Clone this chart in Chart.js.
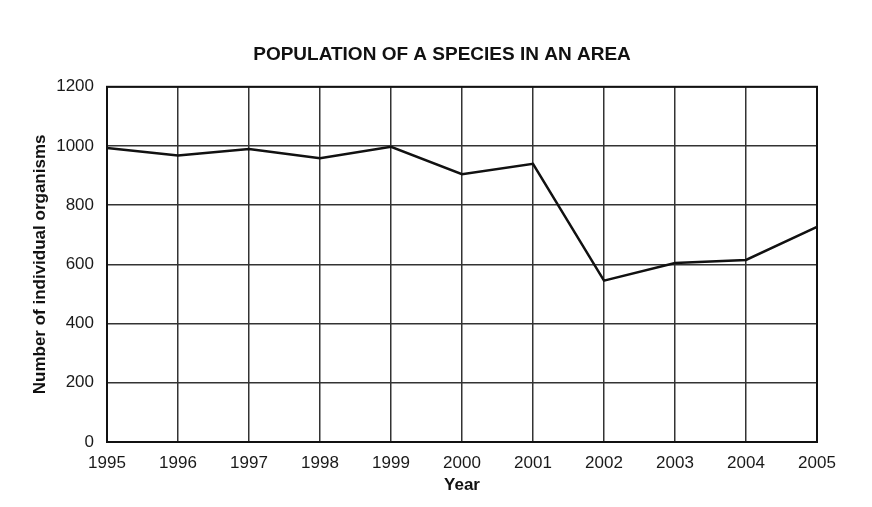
<!DOCTYPE html>
<html>
<head>
<meta charset="utf-8">
<script src="https://cdn.jsdelivr.net/npm/chart.js@4"></script>
<style>
  html, body { margin: 0; padding: 0; background: #fff; }
  #wrap { width: 872px; height: 507px; }
</style>
</head>
<body>
<div id="wrap"><canvas id="popChart"></canvas></div>
<script>
// values
const years = [1995, 1996, 1997, 1998, 1999, 2000, 2001, 2002, 2003, 2004, 2005];
const population = [993, 968, 990, 959, 997, 905, 940, 545, 605, 615, 727];
const yTicks = [0, 200, 400, 600, 800, 1000, 1200];

const font = "'Liberation Sans', Arial, Helvetica, sans-serif";
Chart.defaults.font.family = font;
Chart.defaults.color = '#1a1a1a';

const points = years.map((y, i) => ({ x: y, y: population[i] }));

new Chart(document.getElementById('popChart').getContext('2d'), {
    type: 'line',
    data: {
        datasets: [{
            data: points,
            borderColor: '#111',
            borderWidth: 2.5,
            pointRadius: 0,
            tension: 0,
            fill: false
        }]
    },
    options: {
        responsive: true,
        maintainAspectRatio: false,
        animation: false,
        layout: { padding: { left: 12, right: 0, top: 0, bottom: 0 } },
        plugins: {
            legend: { display: false },
            tooltip: { enabled: false },
            title: {
                display: true,
                text: 'POPULATION OF A SPECIES IN AN AREA',
                font: { size: 19, weight: 'bold' },
                color: '#111',
                padding: { top: 43, bottom: 21 }
            }
        },
        scales: {
            x: {
                type: 'linear',
                min: years[0],
                max: years[years.length - 1],
                afterBuildTicks: s => { s.ticks = years.map(v => ({ value: v })); },
                afterFit: s => { s.height = 65; },
                border: { display: true, color: '#111', width: 2 },
                grid: { color: '#333', lineWidth: 1.5, drawTicks: false },
                ticks: {
                    padding: 11,
                    font: { size: 17 },
                    callback: v => String(v)
                },
                title: {
                    display: true,
                    text: 'Year',
                    font: { size: 17, weight: 'bold' },
                    color: '#111',
                    padding: { top: 0, bottom: 11 }
                }
            },
            y: {
                min: 0,
                max: 1200,
                afterBuildTicks: s => { s.ticks = yTicks.map(v => ({ value: v })); },
                afterFit: s => { s.width = 95; },
                border: { display: true, color: '#111', width: 2 },
                grid: { color: '#333', lineWidth: 1.5, drawTicks: false },
                ticks: {
                    padding: 13,
                    font: { size: 17 },
                    callback: v => String(v)
                },
                title: {
                    display: true,
                    text: 'Number of individual organisms',
                    font: { size: 17, weight: 'bold' },
                    color: '#111',
                    padding: { top: 18, bottom: 0 }
                }
            },
            // empty right-hand axis, only keeps the margin so the title sits where it does in the original
            yRight: {
                position: 'right',
                min: 0,
                max: 1200,
                afterFit: s => { s.width = 55; },
                border: { display: false },
                grid: { display: false },
                ticks: { display: false }
            }
        }
    },
    plugins: [{
        // close the plot frame on the top and right sides
        id: 'frame',
        afterDraw(chart) {
            const { ctx, chartArea: a } = chart;
            ctx.save();
            ctx.strokeStyle = '#111';
            ctx.lineWidth = 2;
            ctx.strokeRect(a.left, a.top, a.right - a.left, a.bottom - a.top);
            ctx.restore();
        }
    }]
});
</script>
</body>
</html>
